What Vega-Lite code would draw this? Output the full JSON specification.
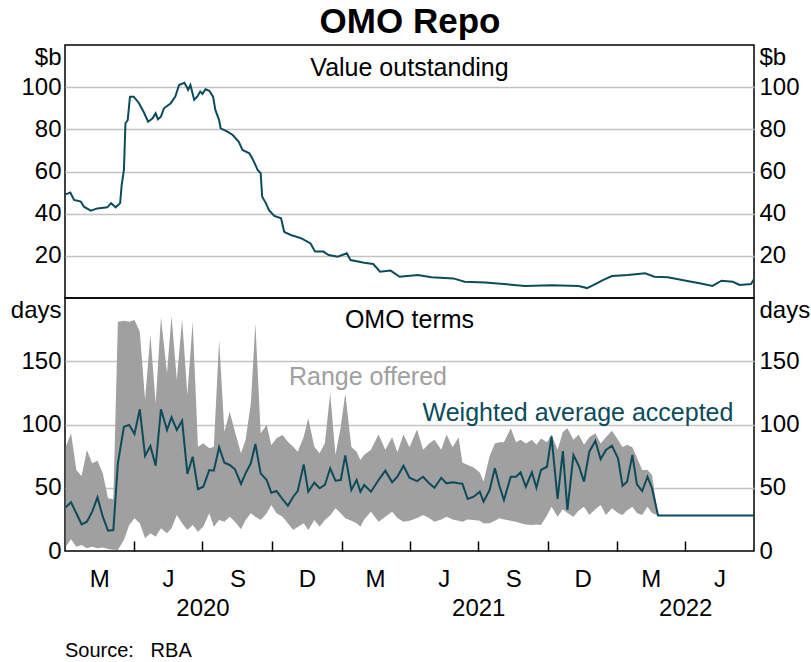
{
  "$schema": "https://vega.github.io/schema/vega-lite/v6.json",
  "padding": {"left": 9, "top": 5, "right": 2, "bottom": 5},
  "title": {"text": "OMO Repo", "fontSize": 35, "fontWeight": "bold", "font": "Liberation Sans", "color": "black", "anchor": "middle", "offset": 4},
  "config": {
    "font": "Liberation Sans",
    "view": {"stroke": "black", "strokeWidth": 1.5},
    "axis": {"labelFont": "Liberation Sans", "labelFontSize": 24, "labelColor": "black", "titleFont": "Liberation Sans"}
  },
  "spacing": 0,
  "bounds": "flush",
  "datasets": {
    "value": [
      {"d": "2020-01-01", "v": 49.5}, {"d": "2020-01-03", "v": 49.3}, {"d": "2020-01-08", "v": 50}, {"d": "2020-01-13", "v": 46.5},
      {"d": "2020-01-22", "v": 45.7}, {"d": "2020-01-26", "v": 43.3}, {"d": "2020-02-04", "v": 41.4}, {"d": "2020-02-13", "v": 42.5},
      {"d": "2020-02-26", "v": 43}, {"d": "2020-03-02", "v": 45}, {"d": "2020-03-08", "v": 43}, {"d": "2020-03-14", "v": 45},
      {"d": "2020-03-16", "v": 53.6}, {"d": "2020-03-19", "v": 60.7}, {"d": "2020-03-21", "v": 82.9}, {"d": "2020-03-24", "v": 84.4},
      {"d": "2020-03-27", "v": 95.5}, {"d": "2020-04-01", "v": 95.5}, {"d": "2020-04-08", "v": 92.4}, {"d": "2020-04-15", "v": 87.6},
      {"d": "2020-04-20", "v": 83.6}, {"d": "2020-04-26", "v": 85.2}, {"d": "2020-04-30", "v": 87.6}, {"d": "2020-05-03", "v": 84.8},
      {"d": "2020-05-07", "v": 86}, {"d": "2020-05-11", "v": 90}, {"d": "2020-05-20", "v": 92.4}, {"d": "2020-05-26", "v": 95.5},
      {"d": "2020-05-31", "v": 101}, {"d": "2020-06-07", "v": 102.1}, {"d": "2020-06-10", "v": 100.2}, {"d": "2020-06-12", "v": 98.7},
      {"d": "2020-06-15", "v": 101}, {"d": "2020-06-20", "v": 94}, {"d": "2020-06-24", "v": 95.5}, {"d": "2020-06-28", "v": 97.9},
      {"d": "2020-07-01", "v": 96.8}, {"d": "2020-07-05", "v": 99}, {"d": "2020-07-10", "v": 98.3}, {"d": "2020-07-15", "v": 95.5},
      {"d": "2020-07-18", "v": 89.2}, {"d": "2020-07-23", "v": 84.4}, {"d": "2020-07-25", "v": 80.5}, {"d": "2020-08-03", "v": 78.9},
      {"d": "2020-08-10", "v": 77.3}, {"d": "2020-08-18", "v": 74.1}, {"d": "2020-08-23", "v": 70.2}, {"d": "2020-09-01", "v": 68.6},
      {"d": "2020-09-06", "v": 65.5}, {"d": "2020-09-12", "v": 60.7}, {"d": "2020-09-16", "v": 59.2}, {"d": "2020-09-18", "v": 48},
      {"d": "2020-09-23", "v": 44.9}, {"d": "2020-09-27", "v": 41.7}, {"d": "2020-10-04", "v": 38.9}, {"d": "2020-10-13", "v": 37.8},
      {"d": "2020-10-17", "v": 31.5}, {"d": "2020-10-19", "v": 31}, {"d": "2020-10-26", "v": 29.9}, {"d": "2020-11-09", "v": 28.3},
      {"d": "2020-11-21", "v": 25.9}, {"d": "2020-11-27", "v": 22}, {"d": "2020-12-08", "v": 22}, {"d": "2020-12-15", "v": 20.4},
      {"d": "2020-12-27", "v": 19.6}, {"d": "2021-01-08", "v": 21.2}, {"d": "2021-01-13", "v": 18}, {"d": "2021-01-31", "v": 16.7},
      {"d": "2021-02-12", "v": 16.1}, {"d": "2021-02-21", "v": 12.5}, {"d": "2021-03-07", "v": 13}, {"d": "2021-03-19", "v": 10.1},
      {"d": "2021-04-12", "v": 10.9}, {"d": "2021-04-30", "v": 9.8}, {"d": "2021-05-29", "v": 9.3}, {"d": "2021-06-13", "v": 7.7},
      {"d": "2021-07-10", "v": 7.3}, {"d": "2021-08-08", "v": 6.5}, {"d": "2021-09-01", "v": 5.7}, {"d": "2021-10-06", "v": 6},
      {"d": "2021-11-11", "v": 5.7}, {"d": "2021-11-22", "v": 4.7}, {"d": "2021-12-01", "v": 6.2}, {"d": "2021-12-13", "v": 8.5},
      {"d": "2021-12-25", "v": 10.4}, {"d": "2022-01-15", "v": 10.9}, {"d": "2022-02-07", "v": 11.7}, {"d": "2022-02-19", "v": 10.1},
      {"d": "2022-03-09", "v": 9.8}, {"d": "2022-04-02", "v": 8.2}, {"d": "2022-04-20", "v": 7}, {"d": "2022-05-07", "v": 5.7},
      {"d": "2022-05-19", "v": 8.2}, {"d": "2022-06-03", "v": 7.7}, {"d": "2022-06-12", "v": 6.2}, {"d": "2022-06-27", "v": 6.6},
      {"d": "2022-07-01", "v": 8.9}
    ],
    "terms": [
      {"d": "2020-01-02", "avg": 34.5, "hi": 82.5, "lo": 3.4},
      {"d": "2020-01-09", "avg": 38.5, "hi": 93, "lo": 9.2},
      {"d": "2020-01-16", "avg": 29.8, "hi": 64, "lo": 3.4},
      {"d": "2020-01-23", "avg": 21.1, "hi": 59.3, "lo": 4.7},
      {"d": "2020-01-30", "avg": 23.2, "hi": 79.8, "lo": 2.1},
      {"d": "2020-02-06", "avg": 31.1, "hi": 69.3, "lo": 3.4},
      {"d": "2020-02-13", "avg": 42.4, "hi": 71.4, "lo": 2.1},
      {"d": "2020-02-20", "avg": 27.1, "hi": 61.4, "lo": 2.7},
      {"d": "2020-02-27", "avg": 16, "hi": 41.7, "lo": 1.5},
      {"d": "2020-03-05", "avg": 16.6, "hi": 40.9, "lo": 1},
      {"d": "2020-03-11", "avg": 69.3, "hi": 181.3, "lo": 0.8},
      {"d": "2020-03-19", "avg": 98.3, "hi": 182, "lo": 8.7},
      {"d": "2020-03-26", "avg": 99.6, "hi": 181.3, "lo": 20.6},
      {"d": "2020-04-02", "avg": 92.5, "hi": 182.6, "lo": 25.8},
      {"d": "2020-04-09", "avg": 112, "hi": 173.4, "lo": 21.9},
      {"d": "2020-04-16", "avg": 75.1, "hi": 119.4, "lo": 10},
      {"d": "2020-04-23", "avg": 83, "hi": 170.8, "lo": 14},
      {"d": "2020-04-30", "avg": 67.4, "hi": 116.8, "lo": 11.3},
      {"d": "2020-05-07", "avg": 112, "hi": 184.7, "lo": 17.9},
      {"d": "2020-05-15", "avg": 95.7, "hi": 140.5, "lo": 14},
      {"d": "2020-05-21", "avg": 105.7, "hi": 185.8, "lo": 17.9},
      {"d": "2020-05-28", "avg": 95.7, "hi": 135.2, "lo": 28.5},
      {"d": "2020-06-04", "avg": 103, "hi": 183.2, "lo": 21.9},
      {"d": "2020-06-11", "avg": 60.9, "hi": 123.3, "lo": 16.6},
      {"d": "2020-06-18", "avg": 74.5, "hi": 181.3, "lo": 20.6},
      {"d": "2020-06-25", "avg": 48.8, "hi": 82.5, "lo": 15.3},
      {"d": "2020-07-02", "avg": 50.8, "hi": 85.1, "lo": 19.2},
      {"d": "2020-07-10", "avg": 64, "hi": 81.2, "lo": 29.8},
      {"d": "2020-07-16", "avg": 63.5, "hi": 82.5, "lo": 19.2},
      {"d": "2020-07-23", "avg": 82, "hi": 166.8, "lo": 24.5},
      {"d": "2020-07-30", "avg": 69.8, "hi": 94.3, "lo": 23.2},
      {"d": "2020-08-06", "avg": 68, "hi": 110.1, "lo": 27.1},
      {"d": "2020-08-13", "avg": 64.6, "hi": 94.3, "lo": 23.2},
      {"d": "2020-08-21", "avg": 53, "hi": 77.2, "lo": 17.2},
      {"d": "2020-08-27", "avg": 61.4, "hi": 87.7, "lo": 24.5},
      {"d": "2020-09-03", "avg": 69.3, "hi": 116.8, "lo": 29.8},
      {"d": "2020-09-09", "avg": 84.6, "hi": 180, "lo": 27.1},
      {"d": "2020-09-16", "avg": 61.4, "hi": 93, "lo": 24.5},
      {"d": "2020-09-24", "avg": 56.1, "hi": 99.6, "lo": 29.8},
      {"d": "2020-09-30", "avg": 46.1, "hi": 83.8, "lo": 36.4},
      {"d": "2020-10-07", "avg": 47.4, "hi": 89.1, "lo": 29.8},
      {"d": "2020-10-15", "avg": 40.9, "hi": 91.7, "lo": 27.1},
      {"d": "2020-10-22", "avg": 35.8, "hi": 86.4, "lo": 21.9},
      {"d": "2020-10-29", "avg": 42.9, "hi": 82.5, "lo": 16.6},
      {"d": "2020-11-04", "avg": 47.4, "hi": 78.5, "lo": 19},
      {"d": "2020-11-12", "avg": 68.5, "hi": 90.4, "lo": 21.9},
      {"d": "2020-11-18", "avg": 46.9, "hi": 104.9, "lo": 16.6},
      {"d": "2020-11-26", "avg": 54, "hi": 82.5, "lo": 24.5},
      {"d": "2020-12-03", "avg": 49.6, "hi": 77.2, "lo": 19.2},
      {"d": "2020-12-10", "avg": 52.2, "hi": 85.1, "lo": 24.5},
      {"d": "2020-12-17", "avg": 65.4, "hi": 124.7, "lo": 28},
      {"d": "2020-12-24", "avg": 55.6, "hi": 75.9, "lo": 33.7},
      {"d": "2020-12-31", "avg": 56.1, "hi": 98.3, "lo": 29.8},
      {"d": "2021-01-06", "avg": 75.6, "hi": 124.7, "lo": 25.8},
      {"d": "2021-01-14", "avg": 48.2, "hi": 82.5, "lo": 24},
      {"d": "2021-01-21", "avg": 56.1, "hi": 78.5, "lo": 21.9},
      {"d": "2021-01-26", "avg": 46.9, "hi": 72, "lo": 19.2},
      {"d": "2021-01-31", "avg": 52.2, "hi": 76, "lo": 25},
      {"d": "2021-02-09", "avg": 46.9, "hi": 80, "lo": 31},
      {"d": "2021-02-19", "avg": 56.1, "hi": 92, "lo": 23.2},
      {"d": "2021-02-28", "avg": 63.5, "hi": 80, "lo": 27},
      {"d": "2021-03-09", "avg": 54.3, "hi": 90, "lo": 31},
      {"d": "2021-03-16", "avg": 58.7, "hi": 78, "lo": 26},
      {"d": "2021-03-24", "avg": 67.4, "hi": 92, "lo": 23.2},
      {"d": "2021-04-01", "avg": 57.9, "hi": 82, "lo": 24},
      {"d": "2021-04-11", "avg": 55.3, "hi": 96, "lo": 26},
      {"d": "2021-04-19", "avg": 58.7, "hi": 80, "lo": 28.5},
      {"d": "2021-04-27", "avg": 53.5, "hi": 85, "lo": 26},
      {"d": "2021-05-04", "avg": 50, "hi": 88, "lo": 23.2},
      {"d": "2021-05-13", "avg": 57.9, "hi": 80, "lo": 25},
      {"d": "2021-05-20", "avg": 53.5, "hi": 92, "lo": 27.1},
      {"d": "2021-05-28", "avg": 54.3, "hi": 82, "lo": 25},
      {"d": "2021-06-05", "avg": 53.5, "hi": 90, "lo": 24},
      {"d": "2021-06-10", "avg": 53.2, "hi": 70, "lo": 23.2},
      {"d": "2021-06-17", "avg": 41.1, "hi": 68, "lo": 25},
      {"d": "2021-06-25", "avg": 42.9, "hi": 66, "lo": 24.5},
      {"d": "2021-07-03", "avg": 46.9, "hi": 62, "lo": 24},
      {"d": "2021-07-08", "avg": 39, "hi": 55, "lo": 22},
      {"d": "2021-07-16", "avg": 48.2, "hi": 75, "lo": 21.9},
      {"d": "2021-07-23", "avg": 65.4, "hi": 85, "lo": 24},
      {"d": "2021-07-29", "avg": 51.6, "hi": 86, "lo": 25.8},
      {"d": "2021-08-04", "avg": 40.3, "hi": 86, "lo": 25},
      {"d": "2021-08-13", "avg": 58.7, "hi": 97, "lo": 24},
      {"d": "2021-08-20", "avg": 58.7, "hi": 86, "lo": 23.2},
      {"d": "2021-08-26", "avg": 62.2, "hi": 88, "lo": 22},
      {"d": "2021-09-02", "avg": 50.8, "hi": 85, "lo": 21},
      {"d": "2021-09-10", "avg": 62.2, "hi": 88, "lo": 20.6},
      {"d": "2021-09-16", "avg": 50, "hi": 84, "lo": 21},
      {"d": "2021-09-22", "avg": 64, "hi": 89, "lo": 20.6},
      {"d": "2021-09-30", "avg": 66.6, "hi": 86, "lo": 28},
      {"d": "2021-10-06", "avg": 90.4, "hi": 92, "lo": 35},
      {"d": "2021-10-14", "avg": 41.1, "hi": 80, "lo": 27.1},
      {"d": "2021-10-21", "avg": 79, "hi": 94, "lo": 33},
      {"d": "2021-10-27", "avg": 32.4, "hi": 97, "lo": 30},
      {"d": "2021-11-04", "avg": 75.9, "hi": 88, "lo": 27.1},
      {"d": "2021-11-11", "avg": 67.4, "hi": 92, "lo": 32},
      {"d": "2021-11-18", "avg": 54.8, "hi": 84, "lo": 35},
      {"d": "2021-11-25", "avg": 78.5, "hi": 90, "lo": 28.5},
      {"d": "2021-12-03", "avg": 87, "hi": 93, "lo": 33},
      {"d": "2021-12-10", "avg": 72.5, "hi": 85, "lo": 36.4},
      {"d": "2021-12-17", "avg": 79.8, "hi": 90, "lo": 28.5},
      {"d": "2021-12-25", "avg": 83.2, "hi": 95, "lo": 33.7},
      {"d": "2022-01-02", "avg": 73.3, "hi": 88, "lo": 30},
      {"d": "2022-01-08", "avg": 51.6, "hi": 82, "lo": 28.5},
      {"d": "2022-01-14", "avg": 54.8, "hi": 84, "lo": 32},
      {"d": "2022-01-21", "avg": 75.9, "hi": 82, "lo": 35},
      {"d": "2022-01-27", "avg": 52.7, "hi": 74, "lo": 30},
      {"d": "2022-02-03", "avg": 47.4, "hi": 64, "lo": 28.5},
      {"d": "2022-02-10", "avg": 58.7, "hi": 64, "lo": 35},
      {"d": "2022-02-16", "avg": 49.6, "hi": 60, "lo": 30},
      {"d": "2022-02-24", "avg": 28, "hi": 28, "lo": 28},
      {"d": "2022-07-01", "avg": 28, "hi": 28, "lo": 28}
    ]
  },
  "vconcat": [
    {
      "width": 689,
      "height": 253,
      "resolve": {"axis": {"y": "independent"}},
      "layer": [
        {
          "data": {"name": "value"},
          "mark": {"type": "line", "color": "#0b4b5c", "strokeWidth": 2},
          "encoding": {
            "x": {"field": "d", "type": "temporal", "scale": {"type": "utc", "domain": [{"year": 2020, "month": 1, "date": 1, "utc": true}, {"year": 2022, "month": 7, "date": 1, "utc": true}]}, "axis": null},
            "y": {"field": "v", "type": "quantitative", "scale": {"domain": [0, 120], "nice": false},
              "axis": {"orient": "left", "values": [0, 20, 40, 60, 80, 100, 120], "title": null, "ticks": false, "domain": false, "labelPadding": 4,
                "labelExpr": "datum.value >= 120 ? '$b' : (datum.value <= 0 ? '' : datum.label)",
                "labelBaseline": {"condition": {"test": "datum.value >= 120", "value": "top"}, "value": "middle"},
                "grid": true, "gridColor": "#c4c4c4", "gridWidth": 1.5,
                "gridOpacity": {"condition": {"test": "datum.value >= 120 || datum.value <= 0", "value": 0}, "value": 1}}}
          }
        },
        {
          "data": {"values": [{}]},
          "mark": {"type": "text", "fontSize": 25, "color": "black", "baseline": "middle", "align": "center"},
          "encoding": {
            "x": {"datum": {"year": 2021, "month": 4, "date": 1, "utc": true}, "type": "temporal", "axis": null},
            "y": {"datum": 109, "type": "quantitative",
              "axis": {"orient": "right", "values": [0, 20, 40, 60, 80, 100, 120], "title": null, "ticks": false, "domain": false, "labelPadding": 5, "grid": false,
                "labelExpr": "datum.value >= 120 ? '$b' : (datum.value <= 0 ? '' : datum.label)",
                "labelBaseline": {"condition": {"test": "datum.value >= 120", "value": "top"}, "value": "middle"}}},
            "text": {"value": "Value outstanding"}
          }
        }
      ]
    },
    {
      "width": 689,
      "height": 253,
      "title": {"text": "Source:\u00a0\u00a0\u00a0RBA", "orient": "bottom", "anchor": "start", "frame": "group", "fontSize": 20, "fontWeight": "normal", "color": "black", "offset": 21},
      "resolve": {"axis": {"x": "independent", "y": "independent"}},
      "layer": [
        {
          "data": {"name": "terms"},
          "mark": {"type": "area", "color": "#a0a0a0", "opacity": 1},
          "encoding": {
            "x": {"field": "d", "type": "temporal", "scale": {"type": "utc", "domain": [{"year": 2020, "month": 1, "date": 1, "utc": true}, {"year": 2022, "month": 7, "date": 1, "utc": true}]},
              "axis": {"orient": "bottom", "title": null, "labels": false, "domain": false, "grid": false, "tickSize": -10, "tickColor": "black", "tickWidth": 1.5, "zindex": 1,
                "values": [{"year": 2020, "month": 4, "date": 1, "utc": true}, {"year": 2020, "month": 7, "date": 1, "utc": true}, {"year": 2020, "month": 10, "date": 1, "utc": true},
                  {"year": 2021, "month": 1, "date": 1, "utc": true}, {"year": 2021, "month": 4, "date": 1, "utc": true}, {"year": 2021, "month": 7, "date": 1, "utc": true},
                  {"year": 2021, "month": 10, "date": 1, "utc": true}, {"year": 2022, "month": 1, "date": 1, "utc": true}, {"year": 2022, "month": 4, "date": 1, "utc": true}]}},
            "y": {"field": "hi", "type": "quantitative", "scale": {"domain": [0, 200], "nice": false},
              "axis": {"orient": "left", "values": [0, 50, 100, 150, 200], "title": null, "ticks": false, "domain": false, "labelPadding": 4,
                "labelExpr": "datum.value >= 200 ? 'days' : datum.label",
                "labelBaseline": {"condition": {"test": "datum.value >= 200", "value": "top"}, "value": "middle"},
                "grid": true, "gridColor": "#c4c4c4", "gridWidth": 1.5,
                "gridOpacity": {"condition": {"test": "datum.value >= 200 || datum.value <= 0", "value": 0}, "value": 1}}},
            "y2": {"field": "lo"}
          }
        },
        {
          "data": {"name": "terms"},
          "mark": {"type": "line", "color": "#0b4b5c", "strokeWidth": 2},
          "encoding": {
            "x": {"field": "d", "type": "temporal",
              "axis": {"orient": "bottom", "title": null, "ticks": false, "domain": false, "grid": false, "labelPadding": 16, "labelOffset": -34.5, "labelOverlap": false, "labelFlush": false, "labelBound": false,
                "labelExpr": "utcmonth(datum.value) == 3 ? 'M' : (utcmonth(datum.value) == 6 ? 'J' : (utcmonth(datum.value) == 9 ? 'S' : 'D'))",
                "values": [{"year": 2020, "month": 4, "date": 1, "utc": true}, {"year": 2020, "month": 7, "date": 1, "utc": true}, {"year": 2020, "month": 10, "date": 1, "utc": true},
                  {"year": 2021, "month": 1, "date": 1, "utc": true}, {"year": 2021, "month": 4, "date": 1, "utc": true}, {"year": 2021, "month": 7, "date": 1, "utc": true},
                  {"year": 2021, "month": 10, "date": 1, "utc": true}, {"year": 2022, "month": 1, "date": 1, "utc": true}, {"year": 2022, "month": 4, "date": 1, "utc": true},
                  {"year": 2022, "month": 7, "date": 1, "utc": true}]}},
            "y": {"field": "avg", "type": "quantitative",
              "axis": {"orient": "right", "values": [0, 50, 100, 150, 200], "title": null, "ticks": false, "domain": false, "labelPadding": 5, "grid": false,
                "labelExpr": "datum.value >= 200 ? 'days' : datum.label",
                "labelBaseline": {"condition": {"test": "datum.value >= 200", "value": "top"}, "value": "middle"}}}
          }
        },
        {
          "data": {"values": [{}]},
          "mark": {"type": "text", "fontSize": 25, "color": "black", "baseline": "middle", "align": "center"},
          "encoding": {
            "x": {"datum": {"year": 2021, "month": 4, "date": 1, "utc": true}, "type": "temporal",
              "axis": {"orient": "bottom", "title": null, "ticks": false, "domain": false, "grid": false, "labelPadding": 45, "labelOverlap": false, "labelFlush": false, "labelBound": false,
                "labelExpr": "'' + utcyear(datum.value)",
                "values": [{"year": 2020, "month": 7, "date": 1, "utc": true}, {"year": 2021, "month": 7, "date": 1, "utc": true}, {"year": 2022, "month": 4, "date": 1, "utc": true}]}},
            "y": {"datum": 182.5, "type": "quantitative", "axis": null},
            "text": {"value": "OMO terms"}
          }
        },
        {
          "data": {"values": [{}]},
          "mark": {"type": "text", "fontSize": 25, "color": "#a0a0a0", "baseline": "middle", "align": "center"},
          "encoding": {
            "x": {"datum": {"year": 2021, "month": 2, "date": 5, "utc": true}, "type": "temporal", "axis": null},
            "y": {"datum": 137.5, "type": "quantitative", "axis": null},
            "text": {"value": "Range offered"}
          }
        },
        {
          "data": {"values": [{}]},
          "mark": {"type": "text", "fontSize": 25, "color": "#0b4b5c", "baseline": "middle", "align": "center"},
          "encoding": {
            "x": {"datum": {"year": 2021, "month": 11, "date": 10, "utc": true}, "type": "temporal", "axis": null},
            "y": {"datum": 109, "type": "quantitative", "axis": null},
            "text": {"value": "Weighted average accepted"}
          }
        }
      ]
    }
  ]
}
